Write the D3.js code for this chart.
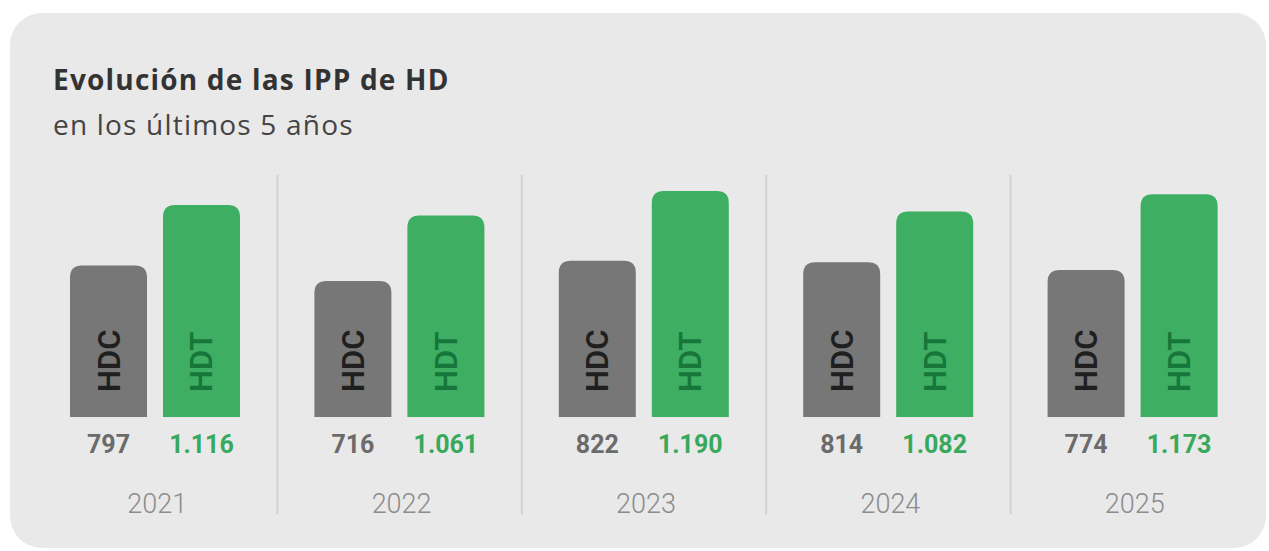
<!DOCTYPE html>
<html lang="es">
<head>
<meta charset="UTF-8">
<title>Evolución de las IPP de HD</title>
<script src="https://cdn.jsdelivr.net/npm/d3@7"></script>
<style>
  html, body { margin: 0; padding: 0; background: #fff; }
  svg { display: block; font-family: Roboto, "Noto Sans", sans-serif; }
</style>
</head>
<body>
<script>
// datos
var years = ['2021', '2022', '2023', '2024', '2025'];
var series = ['HDC', 'HDT'];
var hdc = [797, 716, 822, 814, 774];
var hdt = [1116, 1061, 1190, 1082, 1173];
var valueLabels = {
  HDC: ['797', '716', '822', '814', '774'],
  HDT: ['1.116', '1.061', '1.190', '1.082', '1.173']
};

var W = 1269, H = 551;
var barColor = { HDC: '#777777', HDT: '#3dae62' };
var inBarText = { HDC: '#1f1f1f', HDT: '#17773a' };
var valueColor = { HDC: '#6b6b6b', HDT: '#37a85c' };

var svg = d3.select('body').append('svg').attr('width', W).attr('height', H);

// tarjeta
svg.append('rect')
  .attr('x', 10).attr('y', 13)
  .attr('width', 1256).attr('height', 535)
  .attr('rx', 32)
  .attr('fill', '#e9e9e9');

svg.append('text')
  .attr('x', 53).attr('y', 90)
  .attr('font-family', '"Open Sans", Roboto, sans-serif')
  .attr('font-size', 28).attr('font-weight', 700)
  .attr('letter-spacing', 1.2)
  .attr('fill', '#333')
  .text('Evolución de las IPP de HD');

svg.append('text')
  .attr('x', 53).attr('y', 135)
  .attr('font-family', '"Open Sans", Roboto, sans-serif')
  .attr('font-size', 28).attr('font-weight', 400)
  .attr('letter-spacing', 1.2)
  .attr('fill', '#444')
  .text('en los últimos 5 años');

// escalas
var x0 = d3.scaleBand().domain(years).range([33, 1255]);
var x1 = d3.scaleBand().domain(series).range([37, 207]).paddingInner(0.172);
var y = d3.scaleLinear().domain([0, 1200]).range([417, 189]);

var rows = years.map(function (yr, i) {
  return { year: yr, HDC: hdc[i], HDT: hdt[i], i: i };
});

// separadores
svg.selectAll('line.sep')
  .data(years.slice(1))
  .enter().append('line')
  .attr('class', 'sep')
  .attr('x1', function (d) { return x0(d); })
  .attr('x2', function (d) { return x0(d); })
  .attr('y1', 175).attr('y2', 514)
  .attr('stroke', '#d2d2d2').attr('stroke-width', 2);

var r = 12;
function topRounded(x, yTop, w, yBot) {
  return 'M' + x + ',' + yBot +
    'V' + (yTop + r) +
    'Q' + x + ',' + yTop + ' ' + (x + r) + ',' + yTop +
    'H' + (x + w - r) +
    'Q' + (x + w) + ',' + yTop + ' ' + (x + w) + ',' + (yTop + r) +
    'V' + yBot + 'Z';
}

var g = svg.selectAll('g.year')
  .data(rows)
  .enter().append('g')
  .attr('class', 'year')
  .attr('transform', function (d) { return 'translate(' + x0(d.year) + ',0)'; });

var bars = g.selectAll('g.bar')
  .data(function (d) {
    return series.map(function (s) { return { key: s, value: d[s], i: d.i }; });
  })
  .enter().append('g')
  .attr('class', 'bar');

bars.append('path')
  .attr('d', function (d) {
    return topRounded(x1(d.key), y(d.value), x1.bandwidth(), y(0));
  })
  .attr('fill', function (d) { return barColor[d.key]; });

// etiqueta dentro de la barra
bars.append('text')
  .attr('transform', function (d) {
    var cx = x1(d.key) + x1.bandwidth() / 2;
    return 'translate(' + (cx + 11) + ',' + (y(0) - 25) + ') rotate(-90)';
  })
  .attr('font-size', 31).attr('font-weight', 600)
  .attr('fill', function (d) { return inBarText[d.key]; })
  .text(function (d) { return d.key; });

// valores
bars.append('text')
  .attr('x', function (d) { return x1(d.key) + x1.bandwidth() / 2; })
  .attr('y', 453)
  .attr('text-anchor', 'middle')
  .attr('font-size', 25).attr('font-weight', 700)
  .attr('fill', function (d) { return valueColor[d.key]; })
  .text(function (d) { return valueLabels[d.key][d.i]; });

// años
g.append('text')
  .attr('x', x0.bandwidth() / 2 + 2)
  .attr('y', 513)
  .attr('text-anchor', 'middle')
  .attr('font-size', 27).attr('font-weight', 300)
  .attr('fill', '#8c8c8c')
  .text(function (d) { return d.year; });
</script>
</body>
</html>
